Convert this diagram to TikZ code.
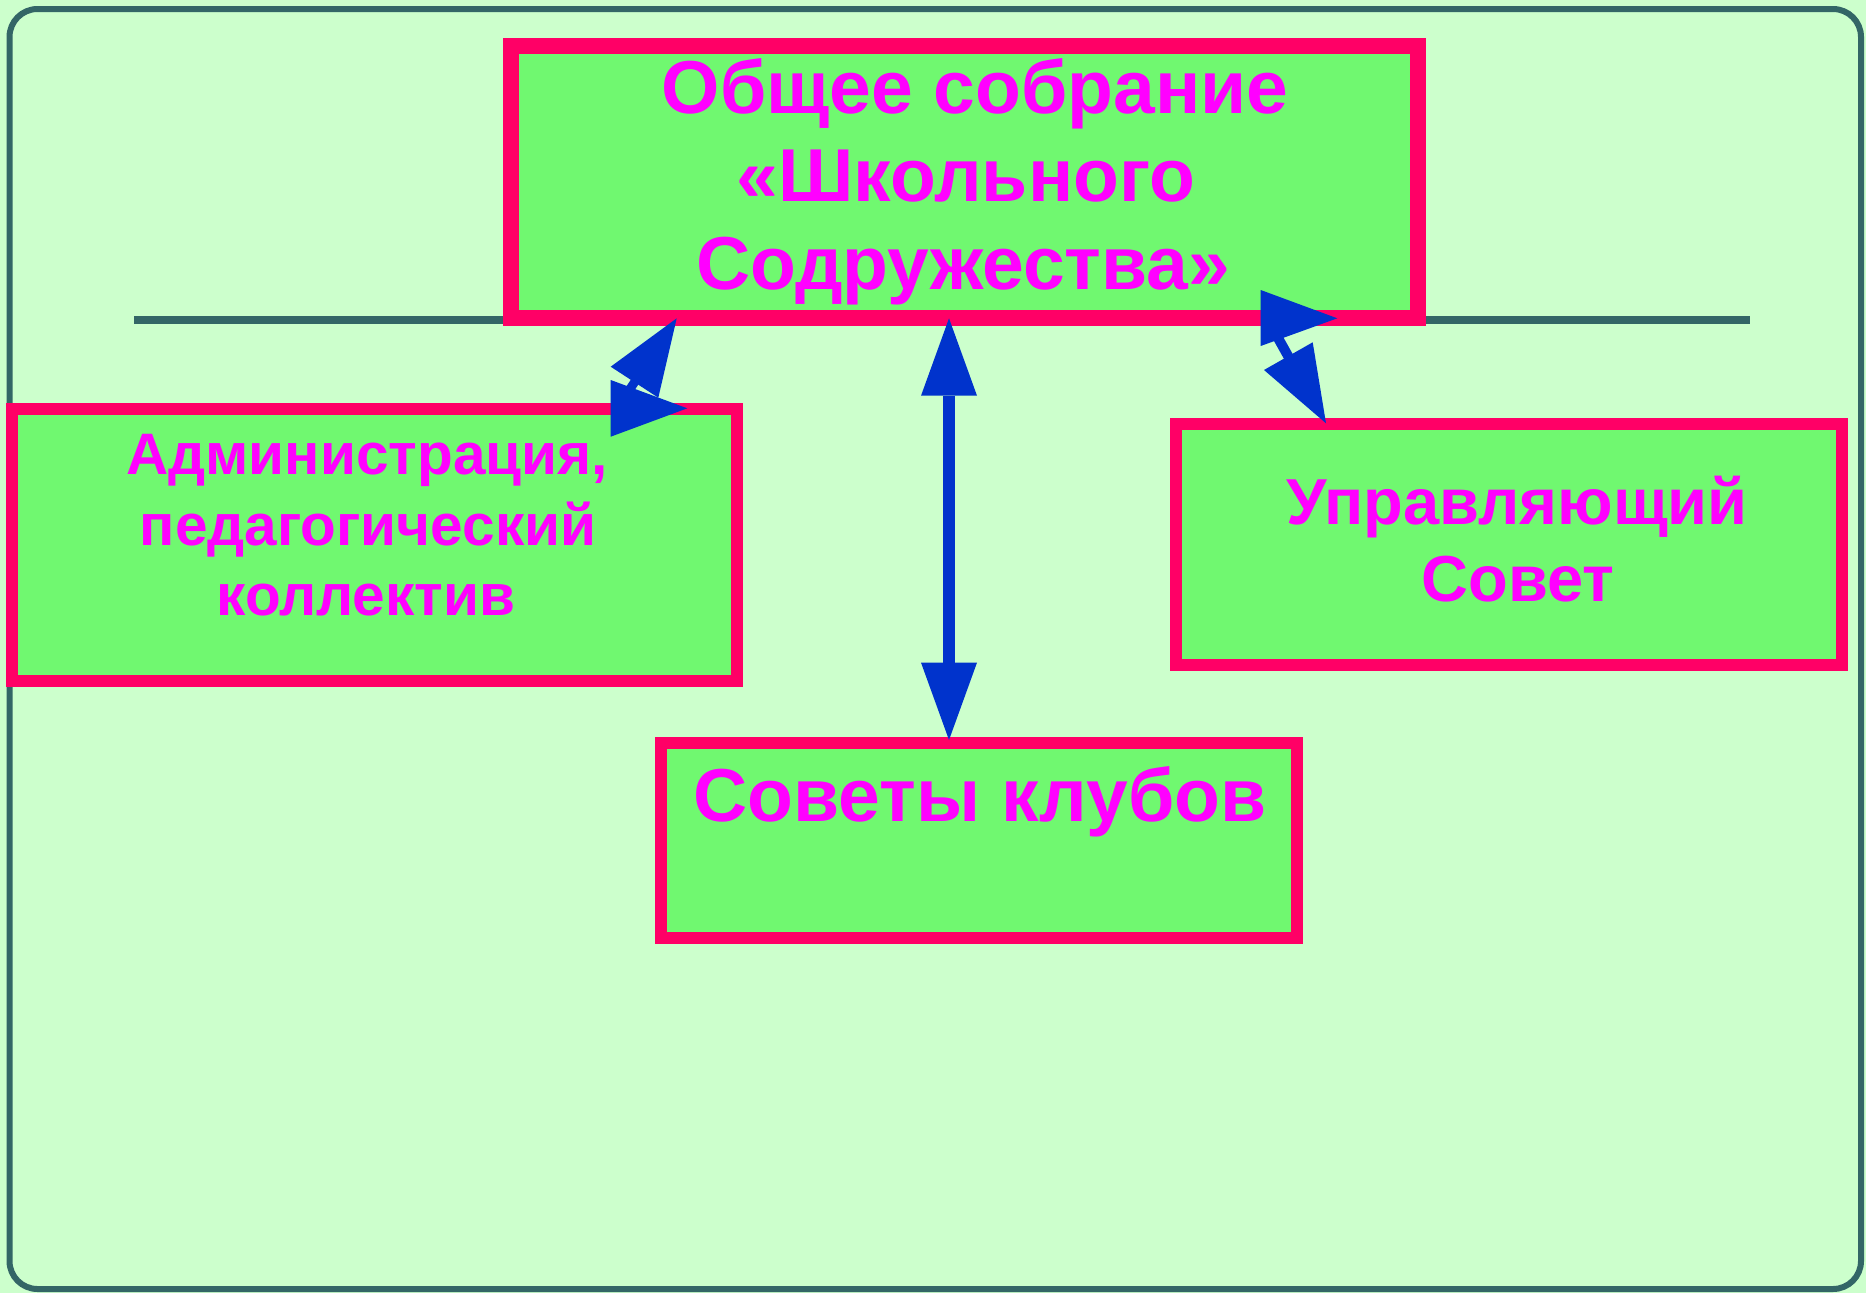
\documentclass[tikz,border=0pt]{standalone}
\usepackage{fontspec}
\setmainfont{Liberation Sans}
\usetikzlibrary{arrows.meta}
\definecolor{bgc}{HTML}{CCFFCC}
\definecolor{framec}{HTML}{336666}
\definecolor{boxfill}{HTML}{70F870}
\definecolor{boxline}{HTML}{FF0066}
\definecolor{txtc}{HTML}{FF00FF}
\definecolor{arrc}{HTML}{0033CC}
\begin{document}
\begin{tikzpicture}[x=1pt,y=-1pt,
  orgbox/.style={draw=boxline, fill=boxfill, line width=12pt, rectangle, inner sep=0pt, outer sep=0pt},
  lbl/.style={text=txtc, anchor=base, inner sep=0pt, font=\bfseries},
  bigtxt/.style={lbl, font=\fontsize{75}{88}\selectfont\bfseries},
  midtxt/.style={lbl, font=\fontsize{65}{77}\selectfont\bfseries},
  smalltxt/.style={lbl, font=\fontsize{58.5}{70}\selectfont\bfseries},
  arrowfill/.style={fill=arrc},
  arrowshaft/.style={draw=arrc, line cap=butt}]
\useasboundingbox (0,0) rectangle (1866,1293);
\fill[bgc] (0,0) rectangle (1866,1293);
\draw[framec, line width=6pt, fill=bgc, rounded corners=28pt] (9.5,9) rectangle (1861,1289);

% horizontal rule
\coordinate (hl) at (134,320);
\coordinate (hr) at (1750,320);
\draw[framec, line width=8pt] (hl) -- (hr);

% boxes
\node[orgbox, line width=16pt, minimum width=907pt, minimum height=272pt] (top) at (964.5,182) {};
\node[orgbox, minimum width=725pt, minimum height=272pt] (admin) at (374.5,545) {};
\node[orgbox, minimum width=666pt, minimum height=241pt] (council) at (1509,544.5) {};
\node[orgbox, minimum width=636pt, minimum height=195pt] (clubs) at (979,840.5) {};

% texts
\node[bigtxt] (t1) at (975,113) {Общее собрание};
\node[bigtxt] (t2) at (966,201) {«Школьного};
\node[bigtxt] (t3) at (963,289) {Содружества»};
\node[smalltxt] (a1) at (367,474) {Администрация,};
\node[smalltxt] (a2) at (368,545) {педагогический};
\node[smalltxt] (a3) at (366,615) {коллектив};
\node[midtxt] (u1) at (1517,524) {Управляющий};
\node[midtxt] (u2) at (1518,601) {Совет};
\node[bigtxt] (k1) at (980,821) {Советы клубов};

% centre double arrow (top <-> clubs)
\coordinate (c1) at (949,318.3);
\coordinate (c2) at (949,740);
\draw[arrc, line width=12pt,
  {Triangle[length=77.4pt,width=56pt,line width=0pt]}-{Triangle[length=77.4pt,width=56pt,line width=0pt]}]
  (c1) -- (c2);

% left double arrow (top <-> admin)
\coordinate (la1) at (676.7,318.3);
\coordinate (la2) at (610.7,366.7);
\coordinate (la3) at (658.3,397.7);
\coordinate (lb1) at (610.7,380);
\coordinate (lb2) at (610.7,436.7);
\coordinate (lb3) at (687.3,408.3);
\coordinate (ls1) at (640,374);
\coordinate (ls2) at (623.5,398.7);
\draw[arrowshaft, line width=9pt] (ls1) -- (ls2);
\fill[arrowfill] (la1) -- (la2) -- (la3) -- cycle;
\fill[arrowfill] (lb1) -- (lb2) -- (lb3) -- cycle;

% right double arrow (top <-> council)
\coordinate (rc1) at (1260.7,290);
\coordinate (rc2) at (1260.7,346);
\coordinate (rc3) at (1337.3,318.3);
\coordinate (rd1) at (1264,370);
\coordinate (rd2) at (1312.7,342.3);
\coordinate (rd3) at (1326,423.3);
\coordinate (rs1) at (1276,334.4);
\coordinate (rs2) at (1292,363);
\draw[arrowshaft, line width=10pt] (rs1) -- (rs2);
\fill[arrowfill] (rc1) -- (rc2) -- (rc3) -- cycle;
\fill[arrowfill] (rd1) -- (rd2) -- (rd3) -- cycle;
\end{tikzpicture}
\end{document}
